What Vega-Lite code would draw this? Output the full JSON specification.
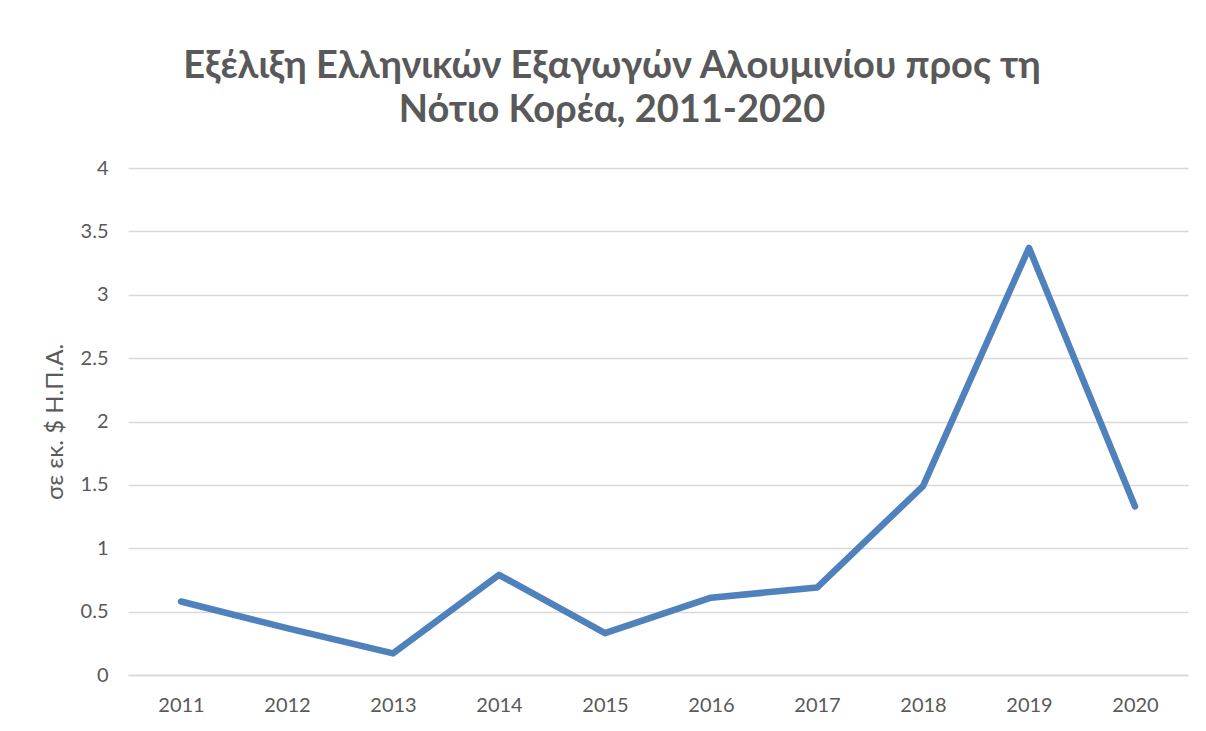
{
  "$schema": "https://vega.github.io/schema/vega-lite/v6.json",
  "autosize": "none",
  "width": 1060,
  "height": 507,
  "padding": {"left": 128, "top": 168, "right": 18, "bottom": 56},
  "background": "white",
  "title": {
    "text": ["Εξέλιξη Ελληνικών Εξαγωγών Αλουμινίου προς τη", "Νότιο Κορέα, 2011-2020"],
    "font": "Lato",
    "fontSize": 38,
    "fontWeight": "bold",
    "color": "#595959",
    "anchor": "middle",
    "dx": -46,
    "offset": 28,
    "lineHeight": 44
  },
  "data": {
    "values": [
      {"year": "2011", "value": 0.58},
      {"year": "2012", "value": 0.37},
      {"year": "2013", "value": 0.17},
      {"year": "2014", "value": 0.79},
      {"year": "2015", "value": 0.33},
      {"year": "2016", "value": 0.61},
      {"year": "2017", "value": 0.69},
      {"year": "2018", "value": 1.49},
      {"year": "2019", "value": 3.37},
      {"year": "2020", "value": 1.33}
    ]
  },
  "mark": {"type": "line", "color": "#4F81BD", "strokeWidth": 6.5, "strokeCap": "round", "strokeJoin": "round"},
  "encoding": {
    "x": {
      "field": "year",
      "type": "ordinal",
      "scale": {"type": "point", "padding": 0.5},
      "axis": {
        "title": null,
        "labelAngle": 0,
        "labelFont": "Lato",
        "labelFontSize": 20,
        "labelColor": "#595959",
        "labelPadding": 20,
        "ticks": false,
        "domain": true,
        "domainColor": "#D9D9D9",
        "domainWidth": 1.5,
        "grid": false
      }
    },
    "y": {
      "field": "value",
      "type": "quantitative",
      "scale": {"domain": [0, 4], "nice": false},
      "axis": {
        "values": [0, 0.5, 1, 1.5, 2, 2.5, 3, 3.5, 4],
        "labelExpr": "datum.value + ''",
        "title": "σε εκ. $ Η.Π.Α.",
        "titleFont": "Lato",
        "titleFontSize": 24,
        "titleFontWeight": "normal",
        "titleColor": "#595959",
        "titlePadding": 13,
        "labelFont": "Lato",
        "labelFontSize": 20,
        "labelColor": "#595959",
        "labelPadding": 20,
        "ticks": false,
        "domain": false,
        "gridColor": "#D9D9D9",
        "gridWidth": 1.5
      }
    }
  },
  "config": {"view": {"stroke": null}}
}
